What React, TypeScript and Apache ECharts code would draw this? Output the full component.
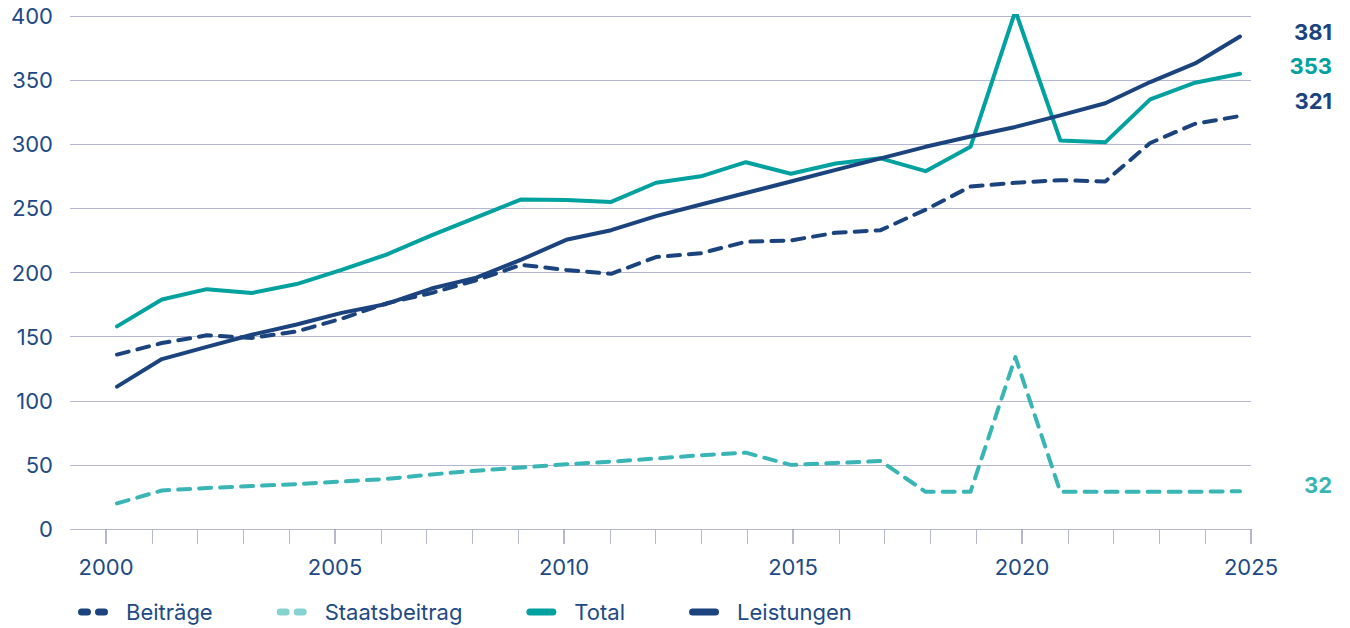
import React, { useEffect, useRef } from "react";
import * as echarts from "echarts";

const years = [2000, 2001, 2002, 2003, 2004, 2005, 2006, 2007, 2008, 2009, 2010, 2011, 2012, 2013, 2014, 2015, 2016, 2017, 2018, 2019, 2020, 2021, 2022, 2023, 2024, 2025];
const beitraege = [136, 145, 151, 149, 154, 164, 176, 184, 194, 206, 202, 199, 212, 215, 224, 225, 231, 233, 249, 267, 270, 272, 271, 301, 316, 322];
const staatsbeitrag = [20, 30, 32, 33.5, 35, 37, 39, 42.5, 45.5, 48, 50.5, 52.5, 55, 57.5, 59.5, 50, 51.5, 53, 29, 29, 134, 29, 29, 29, 29, 29.5];
const total = [158, 179, 187, 184, 191, 202, 214, 229, 243, 257, 256.5, 255, 270, 275, 286, 277, 285, 289, 279, 298, 404, 303, 301.5, 335, 348, 355];
const leistungen = [111, 132.5, 142, 151.5, 159.5, 168.5, 175.5, 187.5, 196, 210, 225.5, 233, 244, 253, 262, 271, 280, 289, 298, 306, 313.5, 322.5, 332, 348.5, 363, 384];
const endLabels = ["321", "32", "353", "381"];
const seriesNames = ["Beiträge", "Staatsbeitrag", "Total", "Leistungen"];

const NAVY = "#1B437E";
const TEAL = "#00A19E";
const LTEAL = "#39B5B5";
const GRID = "#B4B6D3";
const TEXT = "#214A84";
const FONT = "Inter, 'Noto Sans', sans-serif";

const DASH_ICON =
  "path://M3.5,0 H9.5 A3.5,3.5 0 0 1 9.5,7 H3.5 A3.5,3.5 0 0 1 3.5,0 Z M20.5,0 H26.5 A3.5,3.5 0 0 1 26.5,7 H20.5 A3.5,3.5 0 0 1 20.5,0 Z";
const SOLID_ICON = "path://M3.5,0 H26.5 A3.5,3.5 0 0 1 26.5,7 H3.5 A3.5,3.5 0 0 1 3.5,0 Z";

export default function App() {
  const ref = useRef<HTMLDivElement>(null);
  useEffect(() => {
    const chart = echarts.init(ref.current!, null, { renderer: "svg" });
    const pair = (arr: number[]) => years.map((y, i) => [y, arr[i]]);
    const dash = [12, 9];
    const mkEnd = (idx: number, color: string, dy: number) => ({
      show: true,
      formatter: () => endLabels[idx],
      color,
      fontFamily: FONT,
      fontWeight: "bold",
      fontSize: 22,
      align: "right",
      distance: 0,
      offset: [92, dy],
    });
    chart.setOption({
      animation: false,
      grid: [
        { left: 70, right: 99, top: 16, bottom: 99 },
        { left: 106, right: 99, top: 16, bottom: 99 },
      ],
      xAxis: [
        {
          gridIndex: 0,
          type: "value",
          min: 1998.9537,
          max: 2025.2449,
          show: false,
        },
        {
          gridIndex: 1,
          type: "value",
          min: 2000,
          max: 2025,
          interval: 5,
          axisLine: { show: false },
          splitLine: { show: false },
          axisTick: { show: true, length: 15, lineStyle: { color: "#9EA1C3", width: 1.5 } },
          minorTick: { show: true, splitNumber: 5, length: 15, lineStyle: { color: GRID, width: 1 } },
          axisLabel: {
            color: TEXT,
            fontFamily: FONT,
            fontSize: 22,
            margin: 27,
            formatter: (v: number) => String(v),
          },
        },
      ],
      yAxis: [
        {
          gridIndex: 0,
          type: "value",
          min: 0,
          max: 400,
          interval: 50,
          axisLine: { show: false },
          axisTick: { show: false },
          splitLine: { lineStyle: { color: GRID, width: 1.2 } },
          axisLabel: { color: TEXT, fontFamily: FONT, fontSize: 22, margin: 17 },
        },
        { gridIndex: 1, type: "value", min: 0, max: 400, show: false },
      ],
      legend: {
        left: 73,
        top: 596,
        itemWidth: 30,
        itemHeight: 7,
        itemGap: 64,
        textStyle: { color: TEXT, fontFamily: FONT, fontSize: 22, padding: [0, 0, 0, 13] },
        data: [
          { name: seriesNames[0], icon: DASH_ICON, itemStyle: { color: NAVY } },
          { name: seriesNames[1], icon: DASH_ICON, itemStyle: { color: "#86D2D0" } },
          { name: seriesNames[2], icon: SOLID_ICON, itemStyle: { color: TEAL } },
          { name: seriesNames[3], icon: SOLID_ICON, itemStyle: { color: NAVY } },
        ],
      },
      series: [
        {
          name: seriesNames[0],
          type: "line",
          xAxisIndex: 0,
          yAxisIndex: 0,
          data: pair(beitraege),
          showSymbol: false,
          color: NAVY,
          lineStyle: { color: NAVY, width: 4, type: dash, cap: "round", join: "round" },
          endLabel: mkEnd(0, NAVY, -15),
          z: 3,
        },
        {
          name: seriesNames[1],
          type: "line",
          xAxisIndex: 0,
          yAxisIndex: 0,
          data: pair(staatsbeitrag),
          showSymbol: false,
          color: LTEAL,
          lineStyle: { color: LTEAL, width: 4, type: dash, cap: "round", join: "round" },
          endLabel: mkEnd(1, LTEAL, -6),
          z: 3,
        },
        {
          name: seriesNames[2],
          type: "line",
          xAxisIndex: 0,
          yAxisIndex: 0,
          data: pair(total),
          showSymbol: false,
          color: TEAL,
          lineStyle: { color: TEAL, width: 4, cap: "round", join: "round" },
          endLabel: mkEnd(2, TEAL, -8),
          z: 4,
        },
        {
          name: seriesNames[3],
          type: "line",
          xAxisIndex: 0,
          yAxisIndex: 0,
          data: pair(leistungen),
          showSymbol: false,
          color: NAVY,
          lineStyle: { color: NAVY, width: 4, cap: "round", join: "round" },
          endLabel: mkEnd(3, NAVY, -5),
          z: 5,
        },
      ],
    });
    return () => chart.dispose();
  }, []);
  return (
    <div
      ref={ref}
      style={{ position: "fixed", left: 0, top: 0, width: 1350, height: 628, background: "#fff" }}
    />
  );
}
